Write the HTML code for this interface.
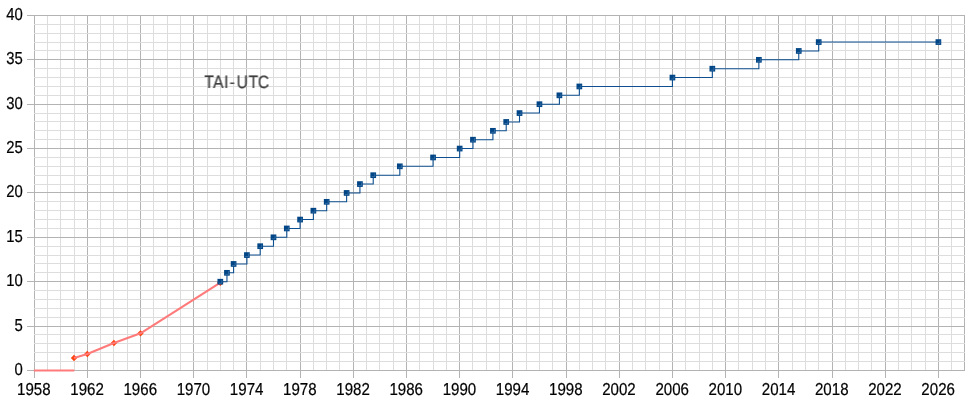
<!DOCTYPE html>
<html><head><meta charset="utf-8"><title>TAI-UTC</title>
<style>html,body{margin:0;padding:0;background:#fff}svg{display:block}</style></head>
<body>
<svg width="970" height="404" viewBox="0 0 970 404">
<rect width="970" height="404" fill="#fff"/>
<path d="M34.5 15.0V378.0M87.5 15.0V378.0M140.5 15.0V378.0M193.5 15.0V378.0M246.5 15.0V378.0M300.5 15.0V378.0M353.5 15.0V378.0M406.5 15.0V378.0M459.5 15.0V378.0M512.5 15.0V378.0M566.5 15.0V378.0M619.5 15.0V378.0M672.5 15.0V378.0M725.5 15.0V378.0M778.5 15.0V378.0M832.5 15.0V378.0M885.5 15.0V378.0M938.5 15.0V378.0M964.5 15.0V371.0" stroke="#b3b3b3" stroke-width="1" fill="none" shape-rendering="crispEdges"/>
<path d="M47.5 15.0V371.0M60.5 15.0V371.0M74.5 15.0V371.0M100.5 15.0V371.0M113.5 15.0V371.0M127.5 15.0V371.0M153.5 15.0V371.0M167.5 15.0V371.0M180.5 15.0V371.0M207.5 15.0V371.0M220.5 15.0V371.0M233.5 15.0V371.0M260.5 15.0V371.0M273.5 15.0V371.0M286.5 15.0V371.0M313.5 15.0V371.0M326.5 15.0V371.0M339.5 15.0V371.0M366.5 15.0V371.0M379.5 15.0V371.0M393.5 15.0V371.0M419.5 15.0V371.0M433.5 15.0V371.0M446.5 15.0V371.0M472.5 15.0V371.0M486.5 15.0V371.0M499.5 15.0V371.0M526.5 15.0V371.0M539.5 15.0V371.0M552.5 15.0V371.0M579.5 15.0V371.0M592.5 15.0V371.0M605.5 15.0V371.0M632.5 15.0V371.0M645.5 15.0V371.0M659.5 15.0V371.0M685.5 15.0V371.0M699.5 15.0V371.0M712.5 15.0V371.0M738.5 15.0V371.0M752.5 15.0V371.0M765.5 15.0V371.0M792.5 15.0V371.0M805.5 15.0V371.0M818.5 15.0V371.0M845.5 15.0V371.0M858.5 15.0V371.0M871.5 15.0V371.0M898.5 15.0V371.0M911.5 15.0V371.0M925.5 15.0V371.0M951.5 15.0V371.0M34.0 361.5H965.0M34.0 352.5H965.0M34.0 343.5H965.0M34.0 334.5H965.0M34.0 317.5H965.0M34.0 308.5H965.0M34.0 299.5H965.0M34.0 290.5H965.0M34.0 272.5H965.0M34.0 263.5H965.0M34.0 255.5H965.0M34.0 246.5H965.0M34.0 228.5H965.0M34.0 219.5H965.0M34.0 210.5H965.0M34.0 201.5H965.0M34.0 184.5H965.0M34.0 175.5H965.0M34.0 166.5H965.0M34.0 157.5H965.0M34.0 139.5H965.0M34.0 130.5H965.0M34.0 121.5H965.0M34.0 113.5H965.0M34.0 95.5H965.0M34.0 86.5H965.0M34.0 77.5H965.0M34.0 68.5H965.0M34.0 50.5H965.0M34.0 42.5H965.0M34.0 33.5H965.0M34.0 24.5H965.0" stroke="#dddddd" stroke-width="1" fill="none" shape-rendering="crispEdges"/>
<path d="M27.0 370.5H965.0M27.0 326.5H965.0M27.0 281.5H965.0M27.0 237.5H965.0M27.0 192.5H965.0M27.0 148.5H965.0M27.0 104.5H965.0M27.0 59.5H965.0M27.0 15.5H965.0" stroke="#b3b3b3" stroke-width="1" fill="none" shape-rendering="crispEdges"/>
<g font-family="'Liberation Sans', Arial, sans-serif" font-size="17.3" fill="#000" stroke="#000" stroke-width="0.22" opacity="0.999" text-rendering="geometricPrecision">
<text transform="translate(33.87 395.0) scale(0.873 1) rotate(0.03)" text-anchor="middle">1958</text>
<text transform="translate(87.06 395.0) scale(0.873 1) rotate(0.03)" text-anchor="middle">1962</text>
<text transform="translate(140.25 395.0) scale(0.873 1) rotate(0.03)" text-anchor="middle">1966</text>
<text transform="translate(193.45 395.0) scale(0.873 1) rotate(0.03)" text-anchor="middle">1970</text>
<text transform="translate(246.64 395.0) scale(0.873 1) rotate(0.03)" text-anchor="middle">1974</text>
<text transform="translate(299.83 395.0) scale(0.873 1) rotate(0.03)" text-anchor="middle">1978</text>
<text transform="translate(353.02 395.0) scale(0.873 1) rotate(0.03)" text-anchor="middle">1982</text>
<text transform="translate(406.21 395.0) scale(0.873 1) rotate(0.03)" text-anchor="middle">1986</text>
<text transform="translate(459.41 395.0) scale(0.873 1) rotate(0.03)" text-anchor="middle">1990</text>
<text transform="translate(512.60 395.0) scale(0.873 1) rotate(0.03)" text-anchor="middle">1994</text>
<text transform="translate(565.79 395.0) scale(0.873 1) rotate(0.03)" text-anchor="middle">1998</text>
<text transform="translate(618.98 395.0) scale(0.873 1) rotate(0.03)" text-anchor="middle">2002</text>
<text transform="translate(672.17 395.0) scale(0.873 1) rotate(0.03)" text-anchor="middle">2006</text>
<text transform="translate(725.37 395.0) scale(0.873 1) rotate(0.03)" text-anchor="middle">2010</text>
<text transform="translate(778.56 395.0) scale(0.873 1) rotate(0.03)" text-anchor="middle">2014</text>
<text transform="translate(831.75 395.0) scale(0.873 1) rotate(0.03)" text-anchor="middle">2018</text>
<text transform="translate(884.94 395.0) scale(0.873 1) rotate(0.03)" text-anchor="middle">2022</text>
<text transform="translate(938.13 395.0) scale(0.873 1) rotate(0.03)" text-anchor="middle">2026</text>
<text transform="translate(22.8 375.05) scale(0.86 1) rotate(0.03)" text-anchor="end">0</text>
<text transform="translate(22.8 331.05) scale(0.86 1) rotate(0.03)" text-anchor="end">5</text>
<text transform="translate(22.8 286.05) scale(0.86 1) rotate(0.03)" text-anchor="end">10</text>
<text transform="translate(22.8 242.05) scale(0.86 1) rotate(0.03)" text-anchor="end">15</text>
<text transform="translate(22.8 197.05) scale(0.86 1) rotate(0.03)" text-anchor="end">20</text>
<text transform="translate(22.8 153.05) scale(0.86 1) rotate(0.03)" text-anchor="end">25</text>
<text transform="translate(22.8 109.05) scale(0.86 1) rotate(0.03)" text-anchor="end">30</text>
<text transform="translate(22.8 64.05) scale(0.86 1) rotate(0.03)" text-anchor="end">35</text>
<text transform="translate(22.8 20.05) scale(0.86 1) rotate(0.03)" text-anchor="end">40</text>
<text transform="translate(0 87.9) scale(0.87 1) rotate(0.03)" x="234.94 245.06 257.47 263.91 272.07 285.86 296.32" y="0" font-family="'Liberation Sans', Arial, sans-serif" font-size="18.0" fill="#3a3a3a" stroke="#3a3a3a" stroke-width="0.2" text-rendering="geometricPrecision">TAI-UTC</text>
</g>
<path d="M70.82 357.94L74.02 354.74L77.22 357.94L74.02 361.14Z" fill="#ff420e"/>
<path d="M84.12 353.94L87.32 350.74L90.52 353.94L87.32 357.14Z" fill="#ff420e"/>
<path d="M110.72 342.94L113.92 339.74L117.12 342.94L113.92 346.14Z" fill="#ff420e"/>
<path d="M137.31 333.35L140.51 330.15L143.71 333.35L140.51 336.55Z" fill="#ff420e"/>
<path d="M217.10 282.68L220.30 279.48L223.50 282.68L220.30 285.88Z" fill="#ff420e"/>
<path d="M33.83 370.45H74.32" stroke="#ff7a7a" stroke-width="2.1" fill="none"/>
<path d="M74.02 357.94L87.32 353.94L113.92 342.94L140.51 333.35L220.30 282.68" stroke="#ff7a7a" stroke-width="2.1" fill="none" stroke-linejoin="round"/>
<path d="M220.30 281.70H226.95V272.82H233.60V263.95H246.90V255.07H260.20V246.20H273.49V237.32H286.79V228.45H300.09V219.57H313.39V210.70H326.69V201.82H346.63V192.95H359.93V184.07H373.23V175.20H399.82V166.32H433.07V157.45H459.67V148.57H472.96V139.70H492.91V130.82H506.21V121.95H519.51V113.07H539.45V104.20H559.40V95.32H579.35V86.45H672.43V77.57H712.33V68.70H758.87V59.82H798.76V50.95H818.71V42.07H938.39V42.07" stroke="#0d4f8f" stroke-width="1.1" fill="none"/>
<rect x="217.45" y="278.85" width="5.7" height="5.7" fill="#004586"/>
<rect x="224.10" y="269.97" width="5.7" height="5.7" fill="#004586"/>
<rect x="230.75" y="261.10" width="5.7" height="5.7" fill="#004586"/>
<rect x="244.05" y="252.22" width="5.7" height="5.7" fill="#004586"/>
<rect x="257.35" y="243.35" width="5.7" height="5.7" fill="#004586"/>
<rect x="270.64" y="234.47" width="5.7" height="5.7" fill="#004586"/>
<rect x="283.94" y="225.60" width="5.7" height="5.7" fill="#004586"/>
<rect x="297.24" y="216.72" width="5.7" height="5.7" fill="#004586"/>
<rect x="310.54" y="207.85" width="5.7" height="5.7" fill="#004586"/>
<rect x="323.84" y="198.97" width="5.7" height="5.7" fill="#004586"/>
<rect x="343.78" y="190.10" width="5.7" height="5.7" fill="#004586"/>
<rect x="357.08" y="181.22" width="5.7" height="5.7" fill="#004586"/>
<rect x="370.38" y="172.35" width="5.7" height="5.7" fill="#004586"/>
<rect x="396.97" y="163.47" width="5.7" height="5.7" fill="#004586"/>
<rect x="430.22" y="154.60" width="5.7" height="5.7" fill="#004586"/>
<rect x="456.82" y="145.72" width="5.7" height="5.7" fill="#004586"/>
<rect x="470.11" y="136.85" width="5.7" height="5.7" fill="#004586"/>
<rect x="490.06" y="127.97" width="5.7" height="5.7" fill="#004586"/>
<rect x="503.36" y="119.10" width="5.7" height="5.7" fill="#004586"/>
<rect x="516.66" y="110.22" width="5.7" height="5.7" fill="#004586"/>
<rect x="536.60" y="101.35" width="5.7" height="5.7" fill="#004586"/>
<rect x="556.55" y="92.47" width="5.7" height="5.7" fill="#004586"/>
<rect x="576.50" y="83.60" width="5.7" height="5.7" fill="#004586"/>
<rect x="669.58" y="74.72" width="5.7" height="5.7" fill="#004586"/>
<rect x="709.48" y="65.85" width="5.7" height="5.7" fill="#004586"/>
<rect x="756.02" y="56.97" width="5.7" height="5.7" fill="#004586"/>
<rect x="795.91" y="48.10" width="5.7" height="5.7" fill="#004586"/>
<rect x="815.86" y="39.22" width="5.7" height="5.7" fill="#004586"/>
<rect x="935.54" y="39.22" width="5.7" height="5.7" fill="#004586"/>
<path d="M221.85 280.00V283.20H218.60M228.50 271.12V274.32H225.25M235.15 262.25V265.45H231.90M248.45 253.38V256.57H245.20M261.75 244.50V247.70H258.50M275.04 235.62V238.82H271.79M288.34 226.75V229.95H285.09M301.64 217.88V221.07H298.39M314.94 209.00V212.20H311.69M328.24 200.12V203.32H324.99M348.18 191.25V194.45H344.93M361.48 182.38V185.57H358.23M374.78 173.50V176.70H371.53M401.38 164.62V167.82H398.12M434.62 155.75V158.95H431.37M461.22 146.88V150.07H457.97M474.51 138.00V141.20H471.26M494.46 129.12V132.32H491.21M507.76 120.25V123.45H504.51M521.06 111.37V114.57H517.81M541.00 102.50V105.70H537.75M560.95 93.62V96.82H557.70M580.90 84.75V87.95H577.65M673.98 75.87V79.07H670.73M713.88 67.00V70.20H710.63M760.42 58.12V61.32H757.17M800.31 49.25V52.45H797.06M820.26 40.37V43.57H817.01M939.94 40.37V43.57H936.69" stroke="#a9c4e4" stroke-opacity="0.4" stroke-width="0.7" fill="none"/>
</svg>
</body></html>
